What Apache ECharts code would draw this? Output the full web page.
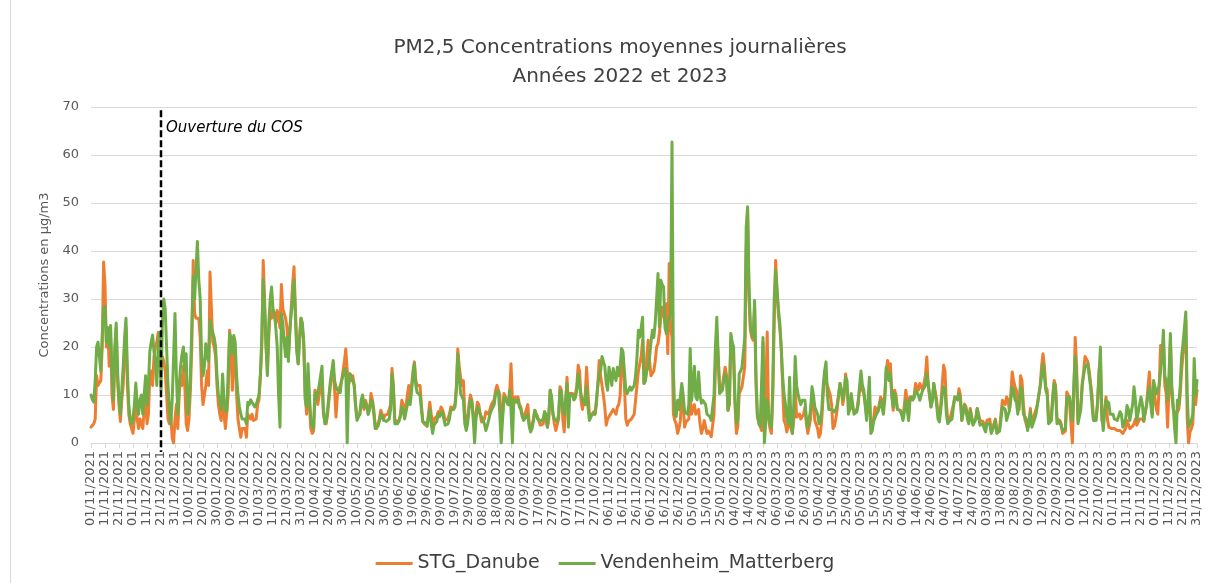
<!DOCTYPE html>
<html>
<head>
<meta charset="utf-8">
<script src="https://cdn.jsdelivr.net/npm/echarts@6/dist/echarts.min.js"></script>
<style>
  html, body { margin: 0; padding: 0; background: #ffffff; }
  #chart { width: 1210px; height: 583px; }
</style>
</head>
<body>
<div id="chart"></div>
<script>
// Daily PM2.5 means (µg/m3), 01/11/2021 -> 31/12/2023, one value per day
const firstDay = { year: 2021, month: 11, day: 1 };
const dayCount = 791;

const titleLines = ['PM2,5 Concentrations moyennes journalières', 'Années 2022 et 2023'];
const seriesNames = ['STG_Danube', 'Vendenheim_Matterberg'];
const yAxisTitle = 'Concentrations en µg/m3';
const yTicks = { min: 0, max: 70, step: 10 };
const openingDate = '21/12/2021';
const openingLabel = 'Ouverture du COS';

const stgDanube = [
  3.3, 3.5, 4, 5, 14, 12, 12, 13, 20, 37.7,
  33, 20, 24, 16, 22, 10, 7, 18, 24, 13,
  8, 4.5, 9, 12, 20, 24, 12, 6, 4, 3,
  2, 5, 9, 5, 3, 5, 4, 3, 7, 11,
  4, 6, 14, 15, 12, 18, 20, 21, 23, 22,
  17, 18, 17, 15, 10, 5, 4, 6, 1, 0,
  5, 8, 3, 10, 14, 12, 16, 12, 4, 2.6,
  5, 11, 20, 38, 27, 26, 26, 26, 22, 12,
  8, 10, 12, 15, 12, 35.6, 28, 21, 20, 18,
  12, 8, 6, 4.7, 10, 6, 3, 2.6, 10, 23.5,
  20, 11, 19, 18, 10, 5, 3, 1.2, 3, 2.6,
  3, 1.2, 6, 6, 5, 6, 4.7, 4.5, 5, 8,
  9, 14, 20, 38, 30, 20, 15, 22, 28, 26,
  27.6, 27, 25, 27.6, 26, 24, 33, 28, 27, 26,
  24, 18, 23, 28, 33, 36.7, 28, 20, 16.5, 22,
  26, 24, 20, 10, 6, 14, 8, 3, 2, 2.5,
  11, 10, 8, 10, 12.4, 13, 6, 4.7, 4, 6,
  9, 12, 14, 16, 11, 5.4, 10, 11, 11, 13,
  15, 17, 19.6, 15, 12, 14.4, 13, 14, 12, 8,
  5.4, 5, 6, 8, 9, 7, 8.9, 8, 6, 7,
  10.3, 9, 7, 3.7, 3, 4, 5, 6.8, 6, 5,
  5.8, 5.5, 6, 6, 8, 15.5, 12, 5, 4.5, 4.8,
  4.5, 6, 8.9, 8, 5.4, 5.4, 10, 12, 9, 12,
  15, 16.9, 13, 12, 11.7, 12, 8, 4.5, 4, 4,
  3.5, 3.8, 8.5, 6, 4, 5, 5, 5.5, 6.5, 6,
  7.5, 7, 6, 4.7, 4.5, 5, 6, 7.5, 7, 7.5,
  8, 12, 19.6, 16, 13.7, 12, 13, 6, 3.7, 5,
  8, 10, 9, 6, 4.5, 6, 8.5, 8, 6, 4.4,
  4, 5, 6.5, 6.5, 6, 7, 8, 8, 9, 11,
  12, 12.4, 10, 5, 6, 10.3, 10, 9, 8, 10,
  16.5, 9, 8, 9.6, 9, 9.6, 8, 7.5, 6, 5,
  6, 7, 8, 4, 2.6, 3, 5, 6.8, 6, 5.5,
  4.5, 3.7, 4, 4, 6.5, 6.5, 3.3, 5, 11, 9,
  6, 4, 2.6, 3, 5, 11.7, 11, 5, 2.3, 8,
  13.7, 8, 10.3, 10, 10.3, 9, 10, 12, 16.2, 15,
  9, 7, 6.8, 10, 15.8, 10.3, 6, 6, 6, 6.5,
  6, 8, 12, 17.2, 14, 12, 10, 7.5, 3.7, 5,
  5.4, 6, 6, 7, 6.5, 6, 7.5, 8, 10, 18.6,
  17, 12, 5, 3.7, 4.5, 4.7, 5, 4.7, 6, 9,
  12, 15, 15, 18, 21.4, 12.4, 13, 18, 21.4, 17,
  14, 13.7, 15, 17, 20, 20.7, 22.8, 26, 28.3, 27,
  25, 29, 18.6, 37.4, 24, 22, 6, 4.7, 4, 2,
  3, 4.7, 11, 8, 3.3, 4.4, 4, 5, 10, 6,
  7, 8, 6, 6, 7, 4, 2, 3, 4.7, 4.7,
  2, 2.5, 2, 1.3, 1.5, 6, 15, 22.8, 18, 11.7,
  11, 12, 14, 15.8, 14, 6.8, 8, 21.4, 19, 17.2,
  8, 2, 3.5, 10.3, 11, 11.7, 12, 16, 40, 48.5,
  30, 23.5, 22, 21.4, 28.3, 12, 5.4, 5, 3.5, 2.6,
  21, 6, 10, 23.1, 5, 3, 2, 10, 25, 38,
  32, 26.8, 24, 20, 12, 4.7, 4, 2.3, 2, 5,
  3, 2, 5, 11.7, 5.4, 5.4, 6, 5, 5.4, 6,
  7.5, 4, 2, 2, 5, 10.3, 9, 4.7, 4.7, 3,
  1.2, 2, 5, 10, 14, 14.4, 12, 12.4, 10, 8,
  3, 3.5, 5, 7, 10, 12.4, 11, 8, 10, 14.4,
  14, 8.9, 8, 7.5, 7.5, 6.8, 6.5, 6.8, 7, 11,
  13, 11, 10.3, 10, 6, 7, 8.9, 3.3, 3, 5,
  7.5, 7, 6.5, 8, 9.6, 9.6, 8, 10, 15, 17.2,
  14, 16.5, 10, 6.8, 11, 10, 7, 6.8, 6.8, 6,
  5.4, 8, 11, 9, 5.5, 9.6, 9.6, 9, 10, 12.4,
  12, 11, 12.4, 12, 11, 11, 14, 17.9, 12, 11.7,
  7.5, 9, 12.4, 12.4, 9, 6, 5.4, 8, 12, 16.2,
  15, 8, 4.7, 5, 5.5, 5.5, 8, 9.6, 9.6, 9,
  11.3, 10, 4.7, 5, 8.1, 7.5, 5.5, 4.7, 7.2, 7.2,
  4, 4, 5, 7.2, 7.5, 4.7, 4.7, 4.5, 4, 3.3,
  4.7, 4.7, 5, 2.6, 2.6, 4, 5, 2.6, 2.6, 3,
  6, 8.9, 8.9, 8, 9.6, 9, 6.8, 10, 14.8, 13,
  11.7, 11, 7.5, 7, 14, 13, 8, 5, 4.7, 3,
  4, 7.2, 4, 4, 6, 7, 8, 10, 12, 16,
  18.6, 16, 11.7, 11, 4.7, 4.7, 6, 10, 13, 12,
  5, 4.7, 4.7, 4, 2, 2, 2.5, 10.6, 10, 8,
  4, 0, 10, 22, 16, 4.7, 4.7, 8, 11.7, 11.7,
  18, 18, 17, 15, 12.4, 10, 5.4, 5.4, 5.4, 8,
  15, 17.2, 4.7, 4.7, 7, 9.6, 5, 3.3, 3, 3,
  3, 3, 2.6, 2.6, 3, 2.6, 3, 2, 2, 3,
  4.7, 4.7, 3, 3, 3.5, 4, 5, 3.7, 4, 5,
  5.4, 5, 4.5, 4.7, 8, 11.7, 14.8, 9, 6, 11.7,
  11.7, 7, 6, 12, 20.3, 18, 21.4, 12, 10.3, 3.3,
  12, 21.4, 10, 7, 6.8, 6, 6, 7, 10, 15,
  18.6, 20, 25.5, 5, 0, 2.3, 3, 4, 11.7, 8, 11
];

const vendenheimMatterberg = [
  10, 9, 8.5, 13, 20, 21, 18, 15, 22, 28,
  28.5, 21, 24, 20, 24.5, 14, 9, 20, 25, 15,
  9, 6, 11, 16, 22, 26, 15, 8, 5, 4,
  5, 8, 12.5, 8, 6, 9, 10, 6, 10, 14,
  8, 12, 19, 21, 22.5, 19, 17, 12, 20, 23,
  11, 25, 30, 28, 20, 12, 7, 4, 9, 18,
  27, 14, 6, 12, 16, 18.5, 20, 15, 18.6, 6,
  8, 14, 24, 34.6, 30, 36, 42, 34, 30, 18,
  14, 16, 20.7, 18, 17, 25.5, 24, 23, 22, 20,
  14, 10, 9, 7, 14.4, 9, 7, 6.5, 15, 22.8,
  22, 18.6, 22.4, 21, 14, 10, 7.5, 6, 5, 4.7,
  5, 4, 8.5, 8, 9, 8.5, 8, 7.5, 8, 9,
  10, 14.4, 22, 34, 28, 21, 14, 25, 30, 32.5,
  28, 27, 24, 20, 10, 3.3, 27, 25, 21, 18,
  22, 17, 23.5, 27, 30, 33.9, 26, 19, 16.5, 22,
  26, 25, 21, 9, 7.5, 16.5, 10, 5, 3.5, 3,
  10.3, 9, 9, 12, 14, 16, 7, 4, 4.5, 7,
  10, 13, 15, 17.2, 13, 11.7, 11, 11, 10.5, 13,
  14, 15, 15.5, 0, 12, 14.4, 14, 13, 12, 7.5,
  4.7, 4.5, 6, 9, 10, 7.5, 8.3, 7.5, 6, 7,
  9, 8.5, 6, 3, 2.8, 3.5, 4.5, 6, 5.5, 4.7,
  4.4, 4.5, 4.5, 5, 7, 14.4, 11, 4, 3.7, 4,
  4, 5.5, 7.5, 7, 5, 5, 8, 9, 8, 11,
  14, 16.5, 12, 10.5, 10.3, 10, 7, 4.4, 4, 4.2,
  3.5, 3.5, 7, 4, 2, 3.7, 3.8, 4.5, 6, 5.5,
  6, 6.5, 5, 3.7, 3.5, 4, 5, 6.8, 6.5, 7,
  7.5, 11, 18.6, 14, 10.3, 10, 9, 4, 2.6, 4,
  7, 9, 8.5, 5, 0, 5, 7.5, 7, 6, 5.4,
  5, 4, 2.6, 3.5, 4.7, 6, 6.8, 6.5, 8, 10.3,
  10.5, 10.8, 6, 0, 5, 9.6, 9, 8.5, 8, 11,
  7, 0, 9, 8.9, 8.5, 9, 7.5, 7, 5.5, 4.7,
  5, 5.5, 6, 3.5, 2.3, 3, 4.5, 6.8, 6, 5,
  4.7, 4.5, 4.7, 5, 6.5, 6, 3.3, 6, 11, 9.5,
  6, 5, 4.7, 4.5, 6, 11, 10.5, 7, 6, 9,
  12.4, 3.3, 10, 10.3, 10, 9, 9.5, 11, 14.4, 14,
  10, 9, 9, 8, 11.7, 7.5, 4.7, 5, 6, 6,
  6, 9, 12, 14.4, 15, 18, 18, 16, 12.4, 11,
  15.8, 14, 12, 15.5, 14, 13, 15.8, 14, 16, 19.7,
  19, 15, 11, 10.3, 10, 11.7, 11, 11, 12, 14,
  18, 23.5, 22, 24, 26.2, 12.4, 13, 15, 15.8, 18,
  21, 23.5, 22, 25, 30, 35.3, 24.2, 33.9, 33, 32.5,
  24, 22.8, 25.5, 26, 27, 62.7, 15, 6, 5.5, 8.9,
  7, 7.2, 12.4, 10, 6.5, 6.5, 6, 8, 19.7, 8.9,
  12, 16, 9.6, 9, 14.8, 10, 8.3, 8.9, 8.9, 8,
  6, 6, 5.5, 4.7, 4.7, 10, 20, 26.2, 18, 10.3,
  10.3, 11, 13, 14.4, 13, 6.8, 9, 22.8, 21, 20,
  9, 4, 5, 14.4, 15, 15.8, 16, 22, 45, 49.2,
  33, 24.2, 23, 22, 29.7, 14, 6, 4, 3.5, 3.3,
  22, 0, 0, 9, 6, 4, 3.3, 12, 30, 36,
  32, 28, 25, 20, 14, 10.3, 8, 5, 4, 13.7,
  4, 2, 8, 18, 12, 10.3, 9, 8, 8.9, 8.5,
  8.9, 5, 3.3, 3.3, 7, 11.7, 10, 7.5, 7.5, 6,
  4, 4.5, 7, 12, 15, 16.9, 10, 7, 6.8, 7,
  6.8, 6.5, 7, 8, 10, 12.4, 11, 9, 11, 13.7,
  13, 6, 7, 10.3, 10, 6, 6, 6.5, 8, 12,
  15, 12, 11, 11, 4.7, 9, 13.7, 2, 2.5, 4.5,
  4.7, 6, 6.5, 7.5, 8.9, 8.5, 6, 9, 15.8, 16.2,
  13, 14.4, 10, 7.5, 10.3, 9, 7, 6.8, 6.8, 6,
  4.7, 6.5, 8.9, 7, 4.7, 9, 9.6, 9, 9.5, 11,
  11, 10, 8.9, 9, 11, 11, 12, 14.4, 12.4, 12,
  7.5, 9, 12.4, 12, 8, 5, 4.4, 7, 10, 11.7,
  11, 6, 4, 4.5, 4.7, 5, 7.5, 9.6, 9.6, 9,
  10.3, 9, 4.7, 4.7, 7.8, 7, 5, 4, 6.8, 7,
  3.7, 3.7, 5, 7.2, 7, 3.7, 3.7, 4, 3, 2.3,
  4, 4, 4, 2, 2, 3.5, 4.7, 2, 2, 2.5,
  5, 7.5, 7.5, 7, 4.7, 5, 6.8, 9, 11.7, 11,
  9, 8.5, 6, 6, 11.7, 11, 6, 6, 5, 2.6,
  3, 6.5, 3.3, 3.5, 5, 6, 8, 10, 11.7, 14,
  16.5, 14, 11, 10, 4, 4, 4.7, 9, 12.4, 11,
  4, 4.7, 4.7, 3.5, 2.6, 2.6, 3, 9.6, 9.6, 9.6,
  7, 4.7, 12, 18, 14, 4, 4, 7, 12.4, 12,
  15.8, 16, 16.5, 14, 11.7, 8, 4.7, 4.7, 4.7, 9,
  14, 20, 6, 2.6, 6, 8.9, 9, 8.3, 6, 6,
  6, 5, 4.7, 4.7, 5, 6.5, 6, 3.3, 3.5, 5,
  7.8, 7, 4.7, 4.7, 8, 11.7, 9, 4.7, 5, 8,
  9.6, 8, 4.7, 4.7, 8, 10.3, 11.7, 8, 5.4, 13,
  13, 10.3, 10, 12, 15, 18, 23.5, 14, 13, 8.9,
  14, 22.8, 12, 8, 3, 0, 8.9, 8, 12, 18,
  20.7, 24, 27.3, 10, 3.3, 3, 4.7, 6, 17.6, 10, 13
];

// Category labels: one dd/mm/yyyy date per day
function pad2(n) { return (n < 10 ? '0' : '') + n; }
const categories = [];
for (let i = 0; i < dayCount; i++) {
  const d = new Date(Date.UTC(firstDay.year, firstDay.month - 1, firstDay.day + i));
  categories.push(pad2(d.getUTCDate()) + '/' + pad2(d.getUTCMonth() + 1) + '/' + d.getUTCFullYear());
}

const FONT = 'DejaVu Sans';
const AXIS_GREY = '#d9d9d9';
const TEXT_GREY = '#595959';

const chart = echarts.init(document.getElementById('chart'), null, { renderer: 'canvas' });

chart.setOption({
  animation: false,
  backgroundColor: '#ffffff',
  color: ['#ED7D31', '#70AD47'],
  title: {
    text: titleLines.join('\n'),
    left: 615,
    top: 28,
    textAlign: 'center',
    textStyle: {
      fontFamily: FONT,
      fontSize: 20,
      fontWeight: 'normal',
      color: '#404040',
      lineHeight: 29
    }
  },
  legend: {
    data: seriesNames,
    left: 'center',
    top: 549,
    icon: 'rect',
    itemWidth: 37,
    itemHeight: 3,
    itemGap: 19,
    textStyle: { fontFamily: FONT, fontSize: 19, color: '#404040' }
  },
  grid: { left: 91, right: 13, top: 107, bottom: 140, containLabel: false },
  xAxis: {
    type: 'category',
    data: categories,
    boundaryGap: false,
    axisLine: { lineStyle: { color: AXIS_GREY, width: 1 } },
    axisTick: { show: true, interval: 9, length: 5, lineStyle: { color: AXIS_GREY } },
    axisLabel: {
      interval: 9,
      rotate: 90,
      margin: 8,
      fontFamily: FONT,
      fontSize: 13,
      color: TEXT_GREY,
      hideOverlap: false
    },
    splitLine: { show: false }
  },
  yAxis: {
    type: 'value',
    min: yTicks.min,
    max: yTicks.max,
    interval: yTicks.step,
    name: yAxisTitle,
    nameLocation: 'middle',
    nameGap: 40,
    nameRotate: 90,
    nameTextStyle: { fontFamily: FONT, fontSize: 13, color: TEXT_GREY },
    axisLine: { show: false },
    axisTick: { show: false },
    axisLabel: { fontFamily: FONT, fontSize: 13, color: TEXT_GREY, margin: 12 },
    splitLine: { lineStyle: { color: AXIS_GREY, width: 1 } }
  },
  series: [
    {
      name: seriesNames[0],
      type: 'line',
      data: stgDanube,
      showSymbol: false,
      symbol: 'none',
      lineStyle: { width: 3, color: '#ED7D31', join: 'round', cap: 'round' },
      z: 2
    },
    {
      name: seriesNames[1],
      type: 'line',
      data: vendenheimMatterberg,
      showSymbol: false,
      symbol: 'none',
      lineStyle: { width: 3, color: '#70AD47', join: 'round', cap: 'round' },
      z: 3
    }
  ]
});

// Opening marker: dashed vertical line placed through the axis scales
const lineX = chart.convertToPixel({ xAxisIndex: 0 }, openingDate);
const lineTop = chart.convertToPixel({ yAxisIndex: 0 }, 69.3);
const lineBottom = chart.convertToPixel({ yAxisIndex: 0 }, -1.9);
const labelY = chart.convertToPixel({ yAxisIndex: 0 }, 65.6);

chart.setOption({
  graphic: [
    {
      type: 'line',
      z: 10,
      shape: { x1: lineX, y1: lineTop, x2: lineX, y2: lineBottom },
      style: { stroke: '#000000', lineWidth: 2.5, lineDash: [7, 3] }
    },
    {
      type: 'text',
      z: 10,
      x: lineX + 5,
      y: labelY,
      style: {
        text: openingLabel,
        font: 'italic 15px "DejaVu Sans"',
        fill: '#000000',
        verticalAlign: 'middle',
        align: 'left'
      }
    },
    {
      type: 'line',
      z: 1,
      shape: { x1: 10.5, y1: 0, x2: 10.5, y2: 583 },
      style: { stroke: AXIS_GREY, lineWidth: 1 }
    }
  ]
});
</script>
</body>
</html>
